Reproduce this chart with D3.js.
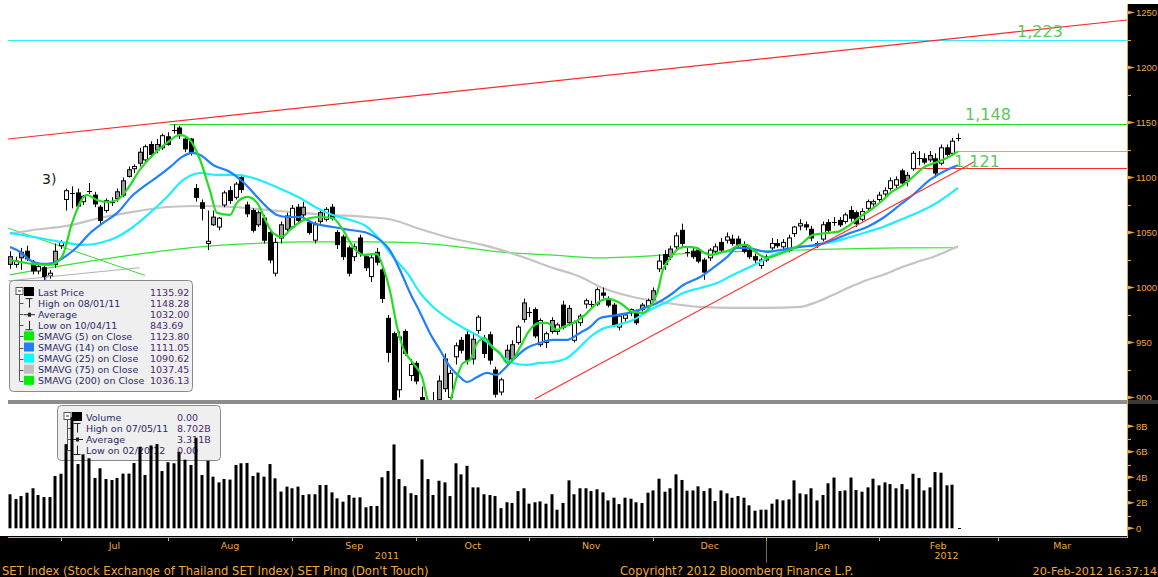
<!DOCTYPE html>
<html><head><meta charset="utf-8">
<script src="https://cdn.jsdelivr.net/npm/d3@7"></script>
<style>body{margin:0;background:#fff;}svg{display:block;}</style>
</head><body><svg id="c" width="1158" height="577"></svg>
<script>
// ---------- DATA ----------
const opens  = [1028,1021,1032,1033,1022,1015,1018,1011,1033,1038,1080,1085,1086,1078,1088,1084,1073,1070,1077,1087,1097,1107,1108,1123,1116,1130,1130,1127,1137,1143,1145,1135,1135,1090,1077,1040,1064,1055,1075,1088,1082,1100,1075,1070,1068,1063,1050,1013,1057,1065,1055,1073,1073,1059,1043,1068,1062,1073,1050,1046,1036,1028,1045,1028,1010,1032,1016,972,958,907,960,920,931,900,870,880,915,935,900,937,952,957,953,961,952,957,925,905,943,948,950,986,978,980,948,950,970,960,984,981,952,968,985,985,985,995,990,984,964,972,977,978,984,983,997,1017,1030,1035,1037,1052,1032,1033,1034,1025,1027,1033,1041,1043,1044,1044,1039,1034,1028,1020,1028,1036,1040,1037,1034,1049,1056,1057,1053,1040,1044,1059,1060,1061,1060,1070,1068,1062,1072,1076,1080,1085,1090,1093,1106,1102,1108,1118,1117,1120,1117,1113,1127,1122,1135.5];
const highs  = [1033,1028,1036,1038,1025,1022,1020,1016,1040,1043,1090,1092,1090,1084,1095,1087,1075,1081,1082,1090,1100,1110,1112,1127,1130,1133,1135,1140,1141,1148.28,1147,1137,1136,1094,1080,1070,1070,1064,1088,1092,1096,1103,1078,1072,1070,1066,1052,1045,1060,1068,1075,1076,1078,1061,1060,1071,1073,1076,1052,1048,1038,1040,1048,1030,1030,1036,1018,975,960,960,962,935,933,910,885,905,920,940,925,950,955,962,958,975,957,960,928,918,948,952,966,990,982,982,972,960,973,968,988,984,970,976,990,988,1000,1000,992,986,976,976,981,980,986,990,1000,1030,1034,1038,1050,1058,1036,1036,1036,1027,1036,1040,1045,1050,1048,1047,1042,1036,1031,1027,1030,1045,1044,1044,1048,1056,1062,1060,1056,1042,1060,1062,1064,1064,1068,1074,1070,1072,1080,1080,1087,1091,1100,1101,1108,1105,1124,1124,1122,1124,1122,1130,1130,1136,1140];
const lows   = [1017,1018,1016,1024,1012,1012,1006,1008,1018,1035,1070,1072,1072,1075,1085,1073,1058,1068,1074,1078,1082,1100,1104,1110,1114,1118,1122,1125,1129,1140,1135,1123,1120,1078,1061,1034,1056,1052,1073,1076,1080,1086,1064,1050,1055,1040,1022,1010,1040,1050,1053,1058,1064,1048,1040,1058,1060,1061,1035,1025,1010,1024,1028,1015,1005,1020,986,932,895,900,938,915,912,860,843.69,870,890,905,896,930,940,930,930,958,936,930,900,902,930,932,948,968,973,954,946,945,958,957,962,965,950,965,981,982,983,990,982,964,961,969,974,966,978,981,987,1014,1016,1025,1035,1037,1028,1026,1022,1007,1024,1030,1032,1040,1038,1036,1031,1026,1022,1017,1023,1034,1036,1035,1032,1046,1052,1052,1042,1036,1042,1050,1056,1055,1058,1060,1055,1060,1070,1073,1078,1083,1088,1090,1093,1092,1106,1111,1112,1114,1100,1111,1119,1120,1133];
const closes = [1021,1024,1027,1026,1015,1019,1010,1013,1021,1041,1088,1086,1074,1083,1088,1076,1061,1079,1078,1081,1084,1101,1110,1113,1128,1121,1125,1138,1130,1143,1138,1126,1122,1082,1072,1042,1057,1063,1086,1079,1094,1089,1067,1052,1057,1043,1025,1041,1045,1053,1072,1061,1066,1050,1057,1060,1071,1063,1039,1028,1013,1037,1031,1018,1027,1023,990,941,898,955,940,930,915,870,880,895,898,908,922,947,943,934,935,973,940,934,903,916,932,935,964,971,977,956,970,958,960,966,964,968,968,974,988,985,998,993,984,966,974,975,980,968,980,988,989,1024,1021,1028,1047,1040,1032,1028,1024,1014,1034,1037,1034,1046,1040,1038,1033,1028,1025,1025,1025,1040,1038,1041,1045,1055,1058,1055,1045,1038,1057,1052,1060,1057,1066,1063,1058,1069,1078,1078,1084,1088,1097,1098,1095,1097,1122,1118,1114,1116,1104,1127,1121,1133,1135.92];
// volume in billions
const volumes = [2.67,2.30,2.53,2.79,3.14,2.61,2.45,2.45,4.10,4.28,6.6,8.70,5.04,5.8,5.49,3.95,4.71,3.87,3.79,3.95,4.29,4.29,5.12,6.4,4.18,6.5,6.6,4.49,5.18,5.10,6.0,5.38,4.97,7.1,4.18,5.3,4.05,3.6,3.87,3.82,4.97,5.1,5.12,4.10,4.37,4.05,5.04,3.92,2.88,3.27,3.14,3.27,2.61,2.67,2.67,3.40,3.40,2.82,2.35,2.09,2.61,2.40,2.43,1.65,1.75,1.75,4.0,4.5,6.58,3.86,3.3,2.75,2.61,5.4,3.86,2.61,3.73,3.6,2.53,5.1,4.23,4.9,3.21,3.21,2.67,2.61,2.53,1.58,2.04,1.99,2.92,3.14,1.93,2.04,2.11,1.93,2.67,1.46,1.99,3.76,2.67,3.14,3.14,2.92,3.06,2.82,2.19,2.40,1.90,2.40,2.32,2.04,1.99,2.79,2.97,3.89,2.87,3.14,4.23,3.79,2.95,2.97,3.29,2.92,3.14,2.14,2.97,2.74,2.40,2.53,2.40,1.80,1.38,1.46,1.46,1.93,2.27,2.19,2.27,3.76,2.74,2.67,3.14,2.19,2.61,3.53,3.98,2.92,2.97,3.98,3.00,2.87,3.21,3.89,3.37,3.60,3.47,3.14,3.47,3.06,4.28,3.95,2.97,3.21,4.41,4.36,3.37,3.42,0];
// moving averages: [trading-day index, value]
const sma5 = [[0,1025.0],[4.1,1021.4],[7.1,1020.5],[9.2,1027.8],[11.0,1058.7],[13.6,1084.1],[15.4,1079.6],[17.2,1077.8],[19.0,1079.6],[20.7,1088.7],[23.0,1106.9],[25.3,1120.5],[27.8,1131.4],[30.1,1138.7],[31.9,1134.1],[33.7,1115.9],[35.4,1088.7],[36.7,1067.8],[39.0,1066.0],[40.2,1076.9],[42.0,1082.3],[43.8,1076.9],[45.5,1058.7],[46.6,1049.6],[48.2,1046.0],[49.6,1052.3],[51.4,1059.6],[53.2,1063.2],[54.9,1064.1],[57.2,1063.2],[59.0,1052.3],[60.8,1036.8],[62.6,1029.6],[65.0,1030.5],[66.1,1018.7],[67.3,997.8],[68.6,964.1],[69.6,945.9],[71.4,931.4],[73.0,918.7],[74.1,895.9],[76.2,878.0],[78.0,895.9],[79.2,918.7],[80.3,931.4],[81.5,934.1],[82.8,949.6],[84.2,954.1],[85.4,945.9],[86.8,940.5],[88.1,931.4],[89.1,934.1],[90.4,945.9],[92.1,961.4],[93.9,967.8],[95.2,967.8],[96.9,961.4],[98.0,964.1],[99.8,967.8],[101.5,973.2],[103.3,982.3],[104.6,987.8],[106.0,989.6],[108.1,986.0],[110.4,977.8],[112.2,976.9],[113.4,982.3],[114.7,995.0],[115.7,1015.9],[117.0,1026.9],[118.7,1036.0],[120.0,1036.9],[121.7,1036.0],[122.8,1032.3],[124.1,1029.6],[125.8,1031.4],[127.6,1034.1],[129.4,1038.7],[130.6,1038.7],[131.7,1034.1],[132.9,1029.6],[134.2,1026.9],[135.9,1029.6],[138.2,1034.1],[140.0,1038.7],[142.3,1047.8],[144.8,1049.6],[146.6,1050.5],[148.3,1055.0],[150.6,1064.1],[153.0,1072.3],[154.7,1079.6],[156.0,1086.0],[158.3,1093.2],[160.4,1102.3],[161.8,1108.7],[164.3,1114.1],[166.0,1117.8],[168,1123.8]];
const sma14 = [[0,1036.8],[1.8,1032.3],[3.5,1025.0],[5.8,1021.4],[7.6,1022.3],[9.4,1026.9],[11.9,1036.8],[14.2,1049.6],[16.5,1058.7],[19.0,1067.8],[21.8,1084.1],[23.6,1091.4],[26.1,1100.5],[28.4,1109.6],[30.5,1118.7],[32.3,1122.3],[33.7,1120.5],[36.0,1111.4],[39.0,1105.0],[41.3,1095.9],[43.8,1082.3],[45.5,1073.2],[47.3,1065.9],[49.1,1064.1],[51.4,1064.1],[53.7,1058.7],[57.2,1055.0],[60.3,1052.3],[63.3,1049.6],[65.6,1043.2],[67.3,1034.1],[69.1,1015.9],[70.9,995.0],[72.7,976.9],[74.4,958.7],[76.2,943.2],[78.0,927.8],[79.7,918.7],[81.0,914.1],[82.8,918.7],[84.5,922.3],[86.3,920.5],[87.4,925.0],[89.1,934.1],[91.6,945.0],[93.9,949.6],[96.2,952.3],[98.7,952.3],[101.0,958.7],[102.8,964.1],[104.6,972.3],[107.6,975.0],[110.4,977.8],[112.9,982.3],[114.7,986.0],[117.0,993.2],[119.3,1002.3],[122.3,1009.6],[124.6,1017.8],[127.1,1027.8],[128.8,1036.0],[130.6,1036.0],[132.4,1034.1],[134.2,1032.3],[136.5,1034.1],[140.0,1036.9],[143.0,1038.7],[145.8,1043.2],[148.9,1049.6],[151.9,1055.0],[154.7,1063.2],[157.7,1075.0],[160.0,1084.1],[163.0,1097.8],[166.0,1106.9],[168,1111.05]];
const sma25 = [[0,1049.6],[4.1,1046.0],[7.1,1043.2],[10.1,1040.5],[12.9,1038.7],[15.9,1040.5],[19.0,1046.0],[21.8,1055.0],[24.8,1067.8],[27.8,1082.3],[30.7,1097.8],[33.7,1104.1],[36.7,1102.3],[39.5,1102.3],[42.5,1100.5],[45.5,1095.0],[48.4,1088.7],[51.4,1081.4],[54.4,1072.3],[57.2,1065.9],[60.3,1061.4],[63.3,1055.0],[65.6,1043.2],[67.9,1027.8],[70.4,1013.2],[72.7,995.0],[75.0,982.3],[78.0,970.5],[81.0,961.4],[83.3,955.0],[85.6,945.9],[87.4,936.8],[89.1,931.4],[91.6,929.6],[93.9,931.4],[96.2,932.3],[98.7,935.9],[101.0,945.9],[102.8,955.0],[104.6,961.4],[107.6,965.9],[110.4,970.5],[113.4,979.6],[116.4,986.9],[119.3,995.0],[122.3,999.6],[125.3,1004.1],[128.1,1011.4],[131.1,1018.7],[132.9,1023.2],[135.2,1029.6],[137.7,1034.1],[140.0,1036.9],[143.0,1038.7],[145.8,1041.4],[148.9,1045.9],[151.9,1050.5],[154.7,1055.0],[157.7,1061.4],[160.7,1067.8],[163.6,1075.0],[168,1090.62]];
const sma75 = [[0,1048.7],[4.1,1052.3],[10.1,1056.0],[15.9,1063.2],[21.8,1068.7],[27.8,1073.2],[33.7,1074.1],[39.5,1073.2],[45.5,1070.5],[51.4,1067.8],[57.2,1065.9],[63.3,1064.1],[67.9,1061.4],[72.1,1054.1],[78.0,1045.0],[83.8,1038.7],[89.8,1029.6],[95.7,1018.7],[101.5,1008.7],[104.6,1000.5],[110.4,991.4],[116.4,985.9],[122.3,982.3],[128.1,981.4],[134.2,981.4],[140.0,982.3],[143.0,986.9],[145.8,993.2],[148.9,1000.5],[151.9,1006.9],[154.7,1011.4],[157.7,1017.8],[160.7,1023.2],[163.6,1027.8],[168,1037.45]];
const sma200 = [[0,1011.4],[10.1,1020.5],[21.8,1029.6],[33.7,1036.9],[45.5,1040.5],[51.4,1041.4],[63.3,1041.4],[72.1,1040.5],[81.0,1036.0],[86.8,1032.3],[95.7,1029.6],[104.6,1026.9],[122.3,1031.4],[140.0,1034.1],[157.7,1036.0],[168,1036.13]];
// annotation levels and trendlines: [day index, value]
const levels = [{v:1224.6, from:-0.4, color:"#33eeff", label:"1,223"},{v:1148.28, from:28.3, color:"#22dd22", label:"1,148"},{v:1123.8, from:168, color:"#ff8c8c", label:null},{v:1108.5, from:160, color:"#ff2a2a", label:"1,121"}];
const trendUpper = [[-0.35,1135.0],[198,1243.2]];
const trendLower = [[93.0,898.6],[171.0,1114.5]];
const trendGreen = [[-0.35,1054],[23.9,1011]];
const trendGray  = [[-0.35,1006],[23.0,1018]];
const monthLabels = ["Jul","Aug","Sep","Oct","Nov","Dec","Jan","Feb","Mar"];
const monthStart  = [9,28,50,72,92,114,134,154,175,198];
const yearLabels = [{t:"2011", from:-0.4, to:134},{t:"2012", from:134, to:198}];
const priceTicks = [900,950,1000,1050,1100,1150,1200,1250];
const volTicks = [0,2,4,6,8];
const priceLegend = [
  {k:"sq", c:"#000000", t:"Last Price", v:"1135.92"},
  {k:"hi", t:"High on 08/01/11", v:"1148.28"},
  {k:"avg", t:"Average", v:"1032.00"},
  {k:"lo", t:"Low on 10/04/11", v:"843.69"},
  {k:"sq", c:"#00ee00", t:"SMAVG (5) on Close", v:"1123.80"},
  {k:"sq", c:"#1e80ff", t:"SMAVG (14) on Close", v:"1111.05"},
  {k:"sq", c:"#00ffff", t:"SMAVG (25) on Close", v:"1090.62"},
  {k:"sq", c:"#c0c0c0", t:"SMAVG (75) on Close", v:"1037.45"},
  {k:"sq", c:"#00ee00", t:"SMAVG (200) on Close", v:"1036.13"}];
const volLegend = [
  {k:"sq", c:"#000000", t:"Volume", v:"0.00"},
  {k:"hi", t:"High on 07/05/11", v:"8.702B"},
  {k:"avg", t:"Average", v:"3.311B"},
  {k:"lo", t:"Low on 02/20/12", v:"0.00"}];

// ---------- SCALES ----------
const svg = d3.select("#c");
const W = 1158, H = 577;
const plotL = 8, plotR = 1127;
const x = d3.scaleLinear().domain([0,168]).range([10,958]);
const yP = d3.scaleLinear().domain([900,1250]).range([397.5,12.5]);
const yV = d3.scaleLinear().domain([0,8]).range([528.3,426.3]);
const ORANGE = "#f0a83c";
const FONT = "DejaVu Sans, Verdana, sans-serif";
const AFONT = "Liberation Sans, Arial, sans-serif";

svg.append("rect").attr("width",W).attr("height",H).attr("fill","#fff");
const defs = svg.append("defs");
defs.append("clipPath").attr("id","pc").append("rect").attr("x",plotL).attr("y",4).attr("width",plotR-plotL).attr("height",396);
defs.append("clipPath").attr("id","vc").append("rect").attr("x",plotL).attr("y",405).attr("width",plotR-plotL).attr("height",130);

// ---------- PRICE PANEL ----------
const pg = svg.append("g").attr("clip-path","url(#pc)");
levels.forEach(l=>{
  pg.append("line").attr("x1",x(l.from)).attr("x2",plotR).attr("y1",Math.round(yP(l.v))+0.5).attr("y2",Math.round(yP(l.v))+0.5)
    .attr("stroke",l.color).attr("stroke-width",1.2);
});
function tl(pts,color,w){ pg.append("line").attr("x1",x(pts[0][0])).attr("y1",yP(pts[0][1])).attr("x2",x(pts[1][0])).attr("y2",yP(pts[1][1])).attr("stroke",color).attr("stroke-width",w); }
tl(trendUpper,"#ff2a2a",1.2);
tl(trendGreen,"#33dd33",1);
tl(trendGray,"#b0b0b0",1);

const line = d3.line().x(d=>x(d[0])).y(d=>yP(d[1])).curve(d3.curveMonotoneX);
pg.append("path").attr("d",line(sma200)).attr("fill","none").attr("stroke","#33e633").attr("stroke-width",1.2);
pg.append("path").attr("d",line(sma75)).attr("fill","none").attr("stroke","#c4c4c4").attr("stroke-width",2.2);

const cg = pg.append("g");
closes.forEach((c,i)=>{
  const o=opens[i], h=highs[i], l=lows[i];
  const cx = Math.round(x(i))+0.5;
  cg.append("line").attr("x1",cx).attr("x2",cx).attr("y1",yP(h)).attr("y2",yP(l)).attr("stroke","#000").attr("stroke-width",1);
  const top = yP(Math.max(o,c)), bot = yP(Math.min(o,c));
  const prev = i>0?closes[i-1]:c;
  const fill = c>o ? "#ffffff" : (c>=prev ? "#9a9a9a" : "#000000");
  if (bot-top < 1.2) {
    cg.append("line").attr("x1",cx-2.5).attr("x2",cx+2.5).attr("y1",Math.round(top)+0.5).attr("y2",Math.round(top)+0.5).attr("stroke","#000");
  } else {
    cg.append("rect").attr("x",cx-2).attr("y",top).attr("width",4).attr("height",bot-top)
      .attr("fill",fill).attr("stroke","#000").attr("stroke-width",1);
  }
});

pg.append("path").attr("d",line(sma25)).attr("fill","none").attr("stroke","#1eefff").attr("stroke-width",2.2);
pg.append("path").attr("d",line(sma14)).attr("fill","none").attr("stroke","#1e80ff").attr("stroke-width",2.2);
pg.append("path").attr("d",line(sma5)).attr("fill","none").attr("stroke","#22dd22").attr("stroke-width",2.2);
tl(trendLower,"#ff3030",1.2);

const lblPos = {"1,223":[1040,37],"1,148":[988,120],"1,121":[977,167]};
levels.filter(l=>l.label).forEach(l=>{
  const p = lblPos[l.label];
  svg.append("text").attr("x",p[0]).attr("y",p[1]).attr("text-anchor","middle").attr("font-family",FONT).attr("font-size",16)
    .attr("fill","#5cc85c").text(l.label);
});
svg.append("text").attr("x",42).attr("y",184).attr("font-family",FONT).attr("font-size",14).attr("fill","#1a1a1a").text("3)");
svg.append("text").attr("x",44).attr("y",284).attr("font-family",FONT).attr("font-size",13).attr("fill","#8a8ad0").text("C");

svg.append("rect").attr("x",plotL).attr("y",400).attr("width",plotR-plotL).attr("height",4).attr("fill","#8c8c8c");

// ---------- LEGENDS ----------
function legend(items, bx, by, bw, bh, labelX, valueX, rowY, rowH){
  const g = svg.append("g");
  g.append("rect").attr("x",bx+0.5).attr("y",by+0.5).attr("width",bw).attr("height",bh).attr("rx",4)
    .attr("fill","#efefef").attr("stroke","#8a8a8a");
  const tx = bx+10.5;
  g.append("rect").attr("x",tx-3.5).attr("y",rowY-4.5).attr("width",7).attr("height",7).attr("fill","#fff").attr("stroke","#555");
  g.append("line").attr("x1",tx-1.5).attr("x2",tx+1.5).attr("y1",rowY-1).attr("y2",rowY-1).attr("stroke","#333");
  g.append("line").attr("x1",tx).attr("x2",tx).attr("y1",rowY+3).attr("y2",rowY+(items.length-1)*rowH).attr("stroke","#555");
  items.forEach((it,k)=>{
    const y = rowY + k*rowH;
    if(k>0) g.append("line").attr("x1",tx).attr("x2",tx+4).attr("y1",Math.round(y)+0.5).attr("y2",Math.round(y)+0.5).attr("stroke","#555");
    const ix = labelX-7;
    if(it.k==="sq") g.append("rect").attr("x",ix-5).attr("y",y-5).attr("width",10).attr("height",9).attr("fill",it.c);
    else if(it.k==="hi"){ g.append("line").attr("x1",ix-3.5).attr("x2",ix+3.5).attr("y1",y-4.5).attr("y2",y-4.5).attr("stroke","#222");
      g.append("line").attr("x1",ix+0.5).attr("x2",ix+0.5).attr("y1",y-4.5).attr("y2",y+4.5).attr("stroke","#222"); }
    else if(it.k==="avg"){ g.append("line").attr("x1",ix-5).attr("x2",ix+6).attr("y1",y+0.5).attr("y2",y+0.5).attr("stroke","#222");
      g.append("rect").attr("x",ix-1).attr("y",y-1.5).attr("width",3).attr("height",4).attr("fill","#222"); }
    else if(it.k==="lo"){ g.append("line").attr("x1",ix-3.5).attr("x2",ix+3.5).attr("y1",y+4.5).attr("y2",y+4.5).attr("stroke","#222");
      g.append("line").attr("x1",ix+0.5).attr("x2",ix+0.5).attr("y1",y-4.5).attr("y2",y+4.5).attr("stroke","#222"); }
    g.append("text").attr("x",labelX+2).attr("y",y+3.5).attr("font-family",FONT).attr("font-size",9.5).attr("fill","#2a2a68").text(it.t);
    g.append("text").attr("x",valueX).attr("y",y+3.5).attr("font-family",FONT).attr("font-size",9.5).attr("fill","#4a2a70").text(it.v);
  });
}
legend(priceLegend, 9, 280, 183, 111, 36, 150, 292, 11.1);
legend(volLegend, 57, 405, 163, 55, 84, 177, 417, 11);

// ---------- VOLUME ----------
const vg = svg.append("g").attr("clip-path","url(#vc)");
volumes.forEach((v,i)=>{
  const cx = Math.round(x(i));
  if(v<=0){ vg.append("line").attr("x1",cx).attr("x2",cx+3).attr("y1",528.5).attr("y2",528.5).attr("stroke","#000"); return; }
  vg.append("rect").attr("x",cx-1.5).attr("y",yV(v)).attr("width",3).attr("height",yV(0)-yV(v)).attr("fill","#000");
});

// ---------- RIGHT AXIS ----------
svg.append("rect").attr("x",plotR).attr("y",4).attr("width",W-plotR).attr("height",H-4).attr("fill","#000");
svg.append("rect").attr("x",0).attr("y",536).attr("width",W).attr("height",H-536).attr("fill","#000");
svg.append("line").attr("x1",plotR+0.5).attr("x2",plotR+0.5).attr("y1",4).attr("y2",538).attr("stroke",ORANGE);
const ax = svg.append("g").attr("transform",`translate(${plotR+9},0)`)
  .call(d3.axisRight(yP).tickValues(priceTicks).tickSize(0).tickPadding(0).tickFormat(d3.format("d")));
ax.select(".domain").remove();
ax.selectAll("text").attr("fill",ORANGE).attr("font-family",AFONT).attr("font-size",9.5).attr("x",0);
priceTicks.forEach(t=>{
  const y=yP(t);
  svg.append("path").attr("d",`M${plotR},${y-2}L${plotR+8},${y}L${plotR},${y+2}Z`).attr("fill",ORANGE);
  if(t<1250) svg.append("line").attr("x1",plotR).attr("x2",plotR+4).attr("y1",Math.round(yP(t+25))+0.5).attr("y2",Math.round(yP(t+25))+0.5).attr("stroke",ORANGE);
});
svg.append("rect").attr("x",plotR+1).attr("y",400).attr("width",W-plotR-1).attr("height",4).attr("fill","#3a3a3a");
const av = svg.append("g").attr("transform",`translate(${plotR+9},0)`)
  .call(d3.axisRight(yV).tickValues(volTicks).tickSize(0).tickPadding(0).tickFormat(d=>d===0?"0":d+"B"));
av.select(".domain").remove();
av.selectAll("text").attr("fill",ORANGE).attr("font-family",AFONT).attr("font-size",9.5).attr("x",0);
volTicks.forEach(t=>{
  const y=yV(t);
  svg.append("path").attr("d",`M${plotR},${y-2}L${plotR+8},${y}L${plotR},${y+2}Z`).attr("fill",ORANGE);
  if(t<8) svg.append("line").attr("x1",plotR).attr("x2",plotR+4).attr("y1",Math.round(yV(t+1))+0.5).attr("y2",Math.round(yV(t+1))+0.5).attr("stroke",ORANGE);
});

// ---------- BOTTOM AXIS ----------
svg.append("line").attr("x1",plotL).attr("x2",plotR).attr("y1",537.5).attr("y2",537.5).attr("stroke",ORANGE);
monthStart.forEach(i=>{
  const xx = Math.round(x(i))+0.5;
  if(xx<plotR) svg.append("line").attr("x1",xx).attr("x2",xx).attr("y1",537).attr("y2",541).attr("stroke",ORANGE);
});
monthLabels.forEach((m,k)=>{
  const cx = (x(monthStart[k])+Math.min(x(monthStart[k+1]),plotR))/2;
  svg.append("text").attr("x",cx).attr("y",549).attr("text-anchor","middle").attr("font-family",FONT).attr("font-size",9.5).attr("fill",ORANGE).text(m);
});
svg.append("line").attr("x1",Math.round(x(134))+0.5).attr("x2",Math.round(x(134))+0.5).attr("y1",541).attr("y2",563).attr("stroke","#6a6a6a");
yearLabels.forEach(yl=>{
  svg.append("text").attr("x",(x(yl.from)+Math.min(x(yl.to),plotR))/2).attr("y",559).attr("text-anchor","middle").attr("font-family",FONT).attr("font-size",9.5).attr("fill",ORANGE).text(yl.t);
});
svg.append("text").attr("x",2).attr("y",574.5).attr("font-family",FONT).attr("font-size",11.6).attr("fill",ORANGE).text("SET Index (Stock Exchange of Thailand SET Index) SET Ping (Don't Touch)");
svg.append("text").attr("x",620).attr("y",574.5).attr("font-family",FONT).attr("font-size",11.6).attr("fill",ORANGE).text("Copyright? 2012 Bloomberg Finance L.P.");
svg.append("text").attr("x",1157).attr("y",574.5).attr("text-anchor","end").attr("font-family",FONT).attr("font-size",11.2).attr("fill",ORANGE).text("20-Feb-2012 16:37:14");
</script></body></html>
